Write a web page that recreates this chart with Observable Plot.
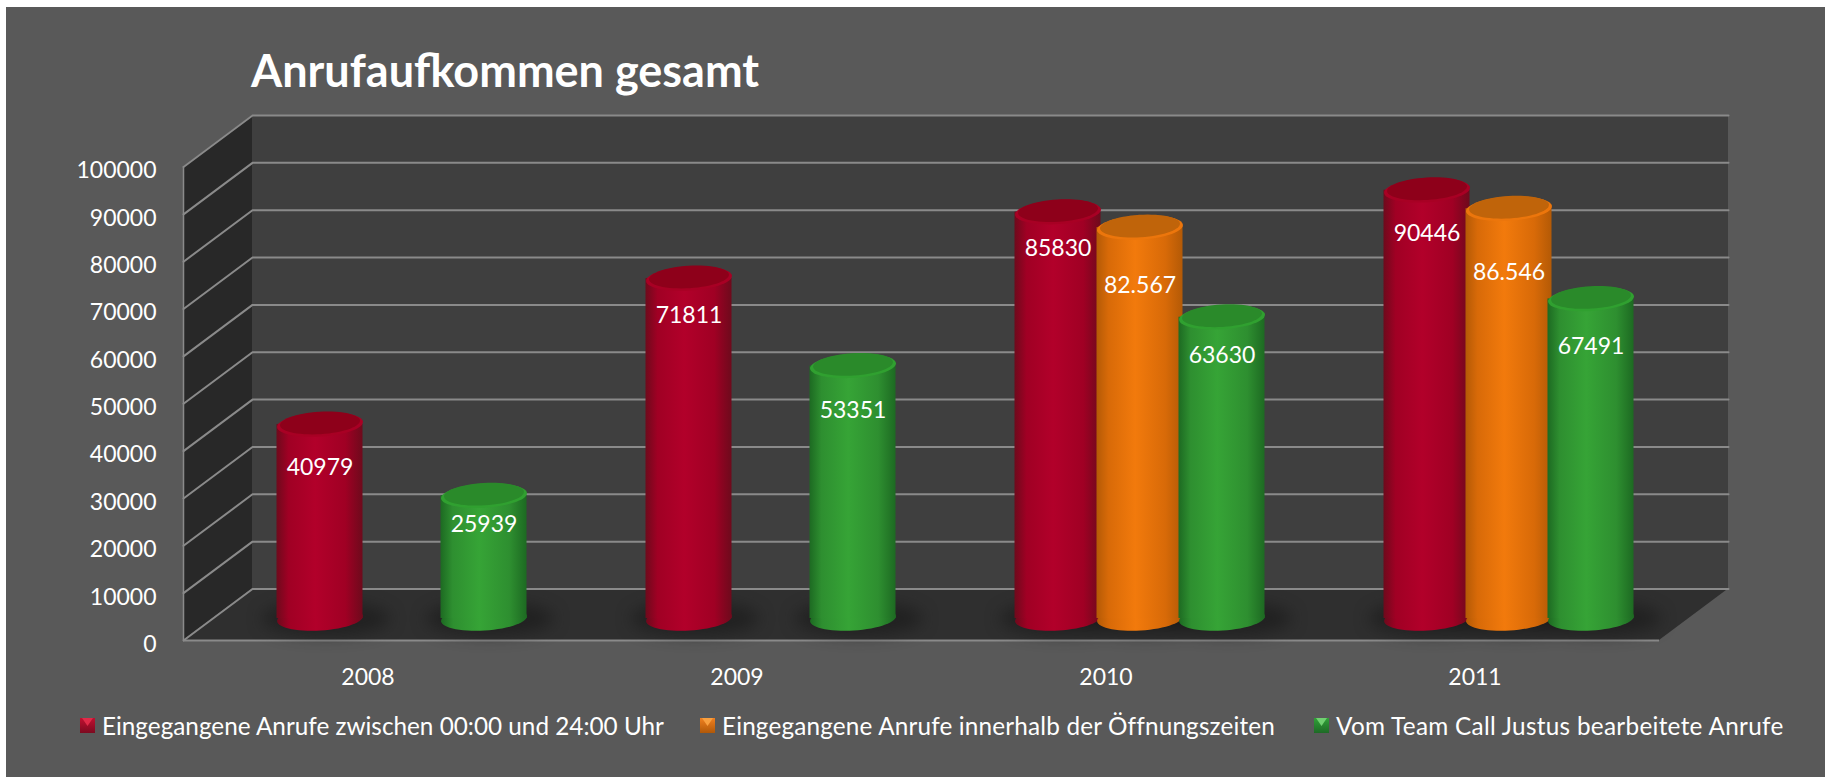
<!DOCTYPE html>
<html lang="de"><head><meta charset="utf-8">
<script src="https://cdn.jsdelivr.net/npm/d3@7"></script>
<script src="https://cdn.jsdelivr.net/npm/@observablehq/plot@0.6"></script>
<style>
html,body{margin:0;background:#fff;overflow:hidden}
#panel{position:absolute;left:6px;top:7px;width:1819px;height:770px;background:#595959;font-family:Lato,sans-serif;color:#fff}
#title{position:absolute;left:245px;top:36px;font:bold 45px Lato,sans-serif;white-space:nowrap}
#chart{position:absolute;left:0;top:93px}
#chart svg{display:block;background:transparent}
.lg{position:absolute;top:704px;white-space:nowrap;font-size:24.3px;line-height:29px}
.sw{position:absolute;top:711px;width:15px;height:15px}
.sw i{position:absolute;left:2px;top:0;width:11px;height:8px;clip-path:polygon(0 0,100% 0,50% 100%)}
</style></head><body>
<div id="panel">
 <div id="title">Anrufaufkommen gesamt</div>
 <div id="chart"></div>
</div>
<script>
const years = [2008, 2009, 2010, 2011];
const seriesNames = [
  "Eingegangene Anrufe zwischen 00:00 und 24:00 Uhr",
  "Eingegangene Anrufe innerhalb der Öffnungszeiten",
  "Vom Team Call Justus bearbeitete Anrufe"
];
const callsAll    = [40979, 71811, 85830, 90446];
const callsOpen   = [null, null, 82567, 86546];
const callsTeam   = [25939, 53351, 63630, 67491];
const yTicks = [0,10000,20000,30000,40000,50000,60000,70000,80000,90000,100000];

// layout (pixels → data units)
const W=1819, H=600, ML=177, MR=166, MT=66.5, MB=60;
const pxX = p => p * 4 / (W-ML-MR);
const pxY = p => p * 100000 / (H-MT-MB);
const x0=2007.5, x1=2011.5;
const backX=pxX(69), backY=pxY(51.5);     // depth of the box
const cylX=pxX(34),  cylY=pxY(22);        // depth of the cylinder axis
const slot=pxX(82), half=pxX(43);
const labelDrop=[[43,37,37,43],[0,0,58,64],[29,45,38,48]];
const legendSpacing=["0","0.17px","0.3px"];

const looks=[
 {fill:"url(#gRed)",   rim:"#a80024", top:"#8e001a", lg:"linear-gradient(#c01030,#7c0a20)", tri:"#e02a48"},
 {fill:"url(#gOrange)",rim:"#ec760c", top:"#c0640a", lg:"linear-gradient(#f08020,#b05808)", tri:"#f8a040"},
 {fill:"url(#gGreen)", rim:"#30a030", top:"#2a8a2a", lg:"linear-gradient(#30a038,#1e6a26)", tri:"#70d070"}
];
const fmtDot=v=>d3.format(",")(v).replace(",",".");
const rows=[callsAll,callsOpen,callsTeam].map((vals,s)=>vals.flatMap((v,i)=>v==null?[]:[{
  year:years[i],s,value:v,
  cx:years[i]+(s-1)*slot+cylX,
  label:s===1?fmtDot(v):String(v),
  drop:labelDrop[s][i]
}]));

// flat tilted ellipse as a dot symbol
const ellipse={draw(ctx,size){
  const a=Math.sqrt(size/Math.PI), b=a*0.28, t=-3.5*Math.PI/180, n=60;
  for(let k=0;k<n;k++){
    const u=2*Math.PI*k/n, ex=a*Math.cos(u), ey=b*Math.sin(u);
    const px=ex*Math.cos(t)-ey*Math.sin(t), py=ex*Math.sin(t)+ey*Math.cos(t);
    k?ctx.lineTo(px,py):ctx.moveTo(px,py);
  }
  ctx.closePath();
}};
const shadow={draw(ctx,size){
  const a=Math.sqrt(size/Math.PI), b=a*0.26;
  ctx.moveTo(a,0);
  for(let k=1;k<48;k++){const u=2*Math.PI*k/48;ctx.lineTo(a*Math.cos(u),b*Math.sin(u));}
  ctx.closePath();
}};

function defs(){
  const g=document.createElementNS("http://www.w3.org/2000/svg","defs");
  const grad=(id,e,c)=>`<linearGradient id="${id}" x1="0" x2="1" y1="0" y2="0">
   <stop offset="0" stop-color="${e}"/><stop offset=".14" stop-color="${c[0]}"/>
   <stop offset=".45" stop-color="${c[1]}"/><stop offset=".8" stop-color="${c[0]}"/>
   <stop offset="1" stop-color="${e}"/></linearGradient>`;
  g.innerHTML=grad("gRed","#6e0a1c",["#a00024","#b2002a"])
    +grad("gOrange","#b45a06",["#d86a08","#f27a0c"])
    +grad("gGreen","#1d6a22",["#2e8f30","#36a436"]);
  return g;
}

const gridStroke="#8a8a8a";
const lines=yTicks.flatMap(v=>[
  {v,x:x0,y:v},
  {v,x:x0+backX,y:v+backY},
  {v,x:x1+backX,y:v+backY}
]);

const marks=[
  defs,
  // back wall
  Plot.rect([0],{x1:x0+backX,x2:x1+backX,y1:backY,y2:100000+backY,fill:"#3f3f3f"}),
  // side wall
  Plot.areaY([0,1],{x:d=>x0+d*backX,y1:d=>d*backY,y2:d=>100000+d*backY,fill:"#282828"}),
  // floor
  Plot.areaX([0,1],{y:d=>d*backY,x1:d=>x0+d*backX,x2:d=>x1+d*backX,fill:"#2f2f2f"}),
  // grid
  Plot.line(lines,{x:"x",y:"y",z:"v",stroke:gridStroke,strokeWidth:2}),
  Plot.ruleX([x0],{y1:0,y2:100000,stroke:"#8a8a8a",strokeWidth:1.5}),
  Plot.ruleY([0],{x1:x0,x2:x1,stroke:"#8a8a8a",strokeWidth:2}),
  // floor shadows
  Plot.dot(rows.flat(),{x:d=>d.cx+pxX(6),y:cylY,r:64,symbol:shadow,fill:"#181818",fillOpacity:.6,imageFilter:"blur(8px)"}),
];
rows.forEach((r,s)=>{
  const L=looks[s];
  marks.push(
    Plot.dot(r,{x:"cx",y:cylY,r:43,symbol:ellipse,fill:L.fill}),
    Plot.rect(r,{x1:d=>d.cx-half,x2:d=>d.cx+half,y1:cylY,y2:d=>d.value+cylY,fill:L.fill}),
    Plot.dot(r,{x:"cx",y:d=>d.value+cylY,r:43,symbol:ellipse,fill:L.rim}),
    Plot.dot(r,{x:"cx",y:d=>d.value+cylY+pxY(1.5),r:40,symbol:ellipse,fill:L.top})
  );
});
marks.push(
  Plot.text(rows.flat(),{x:"cx",y:d=>d.value+cylY-pxY(d.drop),text:"label",fill:"#fff",fontSize:23}),
  Plot.axisY(yTicks,{tickSize:0,tickPadding:27,dy:4,fill:"#fff",label:null,fontSize:23,tickFormat:d=>String(d)}),
  Plot.axisX(years,{tickSize:0,tickPadding:28,fill:"#fff",label:null,fontSize:23,tickFormat:d=>String(d)})
);

const plot=Plot.plot({
  width:W,height:H,marginLeft:ML,marginRight:MR,marginTop:MT,marginBottom:MB,
  x:{domain:[x0,x1],axis:null},
  y:{domain:[0,100000],axis:null},
  style:{fontFamily:"Lato, sans-serif",fontSize:"23px",background:"transparent",color:"#fff",overflow:"visible"},
  marks
});
document.getElementById("chart").append(plot);

// legend below the chart
const panel=document.getElementById("panel");
const swX=[74,694,1308], txX=[96,716,1330];
seriesNames.forEach((n,s)=>{
  const sw=document.createElement("div");sw.className="sw";sw.style.left=swX[s]+"px";sw.style.background=looks[s].lg;
  const tri=document.createElement("i");tri.style.background=looks[s].tri;sw.append(tri);
  const t=document.createElement("div");t.className="lg";t.style.left=txX[s]+"px";t.style.letterSpacing=legendSpacing[s];t.textContent=n;
  panel.append(sw,t);
});
</script>
</body></html>
